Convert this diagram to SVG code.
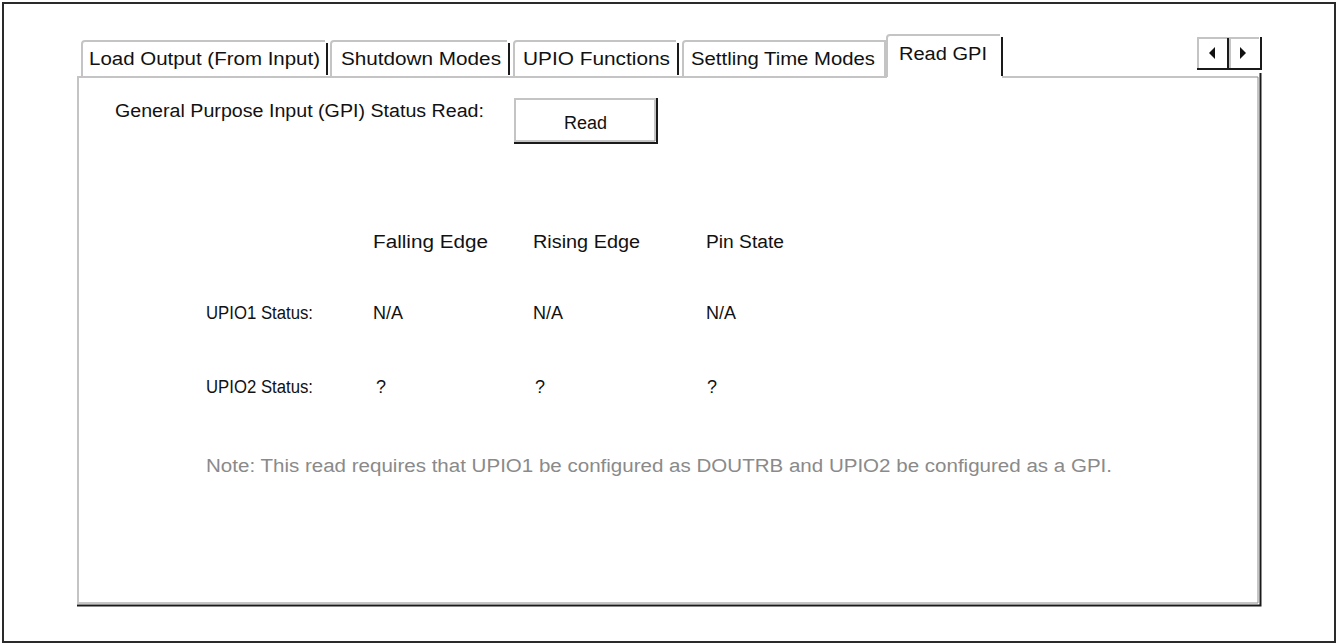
<svg xmlns="http://www.w3.org/2000/svg" width="1338" height="644" viewBox="0 0 1338 644">
  <style>
    .lbl { font-family: "Liberation Sans", Arial, sans-serif; font-size: 18px; fill: #111; }
    .note { font-family: "Liberation Sans", Arial, sans-serif; font-size: 18px; fill: #8a8a8a; }
    .hi { stroke: #c4c4c4; stroke-width: 2; fill: none; }
    .sh { stroke: #1a1a1a; stroke-width: 2; fill: none; }
    .sh2 { stroke: #8c8c8c; stroke-width: 1; fill: none; }
  </style>

  <!-- outer frame -->
  <rect x="0" y="0" width="1338" height="644" fill="#ffffff"/>
  <rect x="3" y="3" width="1332" height="639" fill="none" stroke="#2a2a2a" stroke-width="2"/>

  <!-- tab strip -->
  <g id="tab-load-output">
    <path class="hi" d="M82,76 V44 Q82,41 85,41 H325"/>
    <path class="sh" d="M327,43 V75"/>
    <text class="lbl" x="89" y="65" textLength="231" lengthAdjust="spacingAndGlyphs">Load Output (From Input)</text>
  </g>
  <g id="tab-shutdown">
    <path class="hi" d="M331,76 V44 Q331,41 334,41 H507"/>
    <path class="sh" d="M509,43 V75"/>
    <text class="lbl" x="341" y="65" textLength="160" lengthAdjust="spacingAndGlyphs">Shutdown Modes</text>
  </g>
  <g id="tab-upio">
    <path class="hi" d="M514,76 V44 Q514,41 517,41 H676"/>
    <path class="sh" d="M678,43 V75"/>
    <text class="lbl" x="523" y="65" textLength="147" lengthAdjust="spacingAndGlyphs">UPIO Functions</text>
  </g>
  <g id="tab-settling">
    <path class="hi" d="M683,76 V44 Q683,41 686,41 H885 V76"/>
    <text class="lbl" x="691" y="65" textLength="184" lengthAdjust="spacingAndGlyphs">Settling Time Modes</text>
  </g>
  <g id="tab-read-gpi">
    <rect x="887" y="36" width="115" height="42" fill="#ffffff"/>
    <path class="hi" d="M887,77 V38 Q887,35 890,35 H1000"/>
    <path class="sh" d="M1002,37 V76"/>
    <text class="lbl" x="899" y="60" textLength="88" lengthAdjust="spacingAndGlyphs">Read GPI</text>
  </g>

  <!-- scroll arrows -->
  <g id="tab-scroll">
    <rect x="1197" y="37" width="64" height="32" fill="#ffffff"/>
    <path class="hi" d="M1198,68 V38 H1259"/>
    <path class="hi" d="M1230,68 V38"/>
    <path class="sh" d="M1197,69 H1261 V37"/>
    <path class="sh" d="M1228,38 V69"/>
    <polygon points="1209,53 1215,47 1215,59" fill="#111"/>
    <polygon points="1246,53 1240,47 1240,59" fill="#111"/>
  </g>

  <!-- tab page -->
  <g id="panel">
    <path class="hi" d="M78,604 V77 H887"/>
    <path class="hi" d="M1002,77 H1258"/>
    <path class="sh2" d="M79,603 H1258 V77"/>
    <path class="sh" d="M77,605.5 H1260.5 V73"/>
  </g>

  <g id="gpi-read-label">
    <text class="lbl" x="115" y="117" textLength="369" lengthAdjust="spacingAndGlyphs">General Purpose Input (GPI) Status Read:</text>
  </g>

  <g id="read-button">
    <path class="hi" d="M515,142 V99 H656"/>
    <path class="sh2" d="M516,141 H655 V100"/>
    <path class="sh" d="M514,143 H657 V98"/>
    <text class="lbl" x="585.5" y="129" text-anchor="middle">Read</text>
  </g>

  <g id="column-headers">
    <text class="lbl" x="373" y="248" textLength="115" lengthAdjust="spacingAndGlyphs">Falling Edge</text>
    <text class="lbl" x="533" y="248" textLength="107" lengthAdjust="spacingAndGlyphs">Rising Edge</text>
    <text class="lbl" x="706" y="248" textLength="78" lengthAdjust="spacingAndGlyphs">Pin State</text>
  </g>

  <g id="upio1-row">
    <text class="lbl" x="206" y="319" textLength="107" lengthAdjust="spacingAndGlyphs">UPIO1 Status:</text>
    <text class="lbl" x="373" y="319" textLength="30" lengthAdjust="spacingAndGlyphs">N/A</text>
    <text class="lbl" x="533" y="319" textLength="30" lengthAdjust="spacingAndGlyphs">N/A</text>
    <text class="lbl" x="706" y="319" textLength="30" lengthAdjust="spacingAndGlyphs">N/A</text>
  </g>

  <g id="upio2-row">
    <text class="lbl" x="206" y="393" textLength="107" lengthAdjust="spacingAndGlyphs">UPIO2 Status:</text>
    <text class="lbl" x="376" y="393">?</text>
    <text class="lbl" x="535" y="393">?</text>
    <text class="lbl" x="707" y="393">?</text>
  </g>

  <g id="note">
    <text class="note" x="206" y="472" textLength="906" lengthAdjust="spacingAndGlyphs">Note: This read requires that UPIO1 be configured as DOUTRB and UPIO2 be configured as a GPI.</text>
  </g>
</svg>
